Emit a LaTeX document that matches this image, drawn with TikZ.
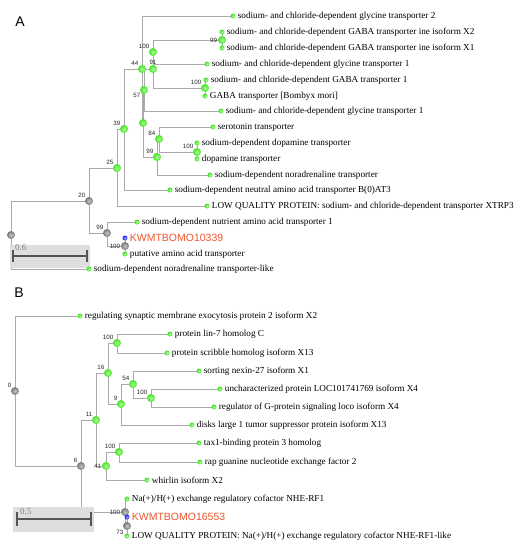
\documentclass[tikz,border=0pt]{standalone}
\usepackage{fontspec}
\setmainfont{Liberation Serif}
\newfontfamily\sansf{Liberation Sans}
\usetikzlibrary{calc}
\pgfdeclarelayer{bg}
\pgfsetlayers{bg,main}
\definecolor{branch}{RGB}{170,170,170}
\definecolor{kwred}{RGB}{238,84,44}
\definecolor{ngreen}{RGB}{70,225,40}
\definecolor{lgreen}{RGB}{170,255,150}
\definecolor{dgray}{RGB}{120,120,120}
\definecolor{scalebg}{RGB}{222,222,222}
\definecolor{bartone}{RGB}{85,85,85}
\tikzset{
  br/.style={draw=branch,line width=0.9pt},
  gnode/.style={circle,inner sep=0pt,minimum size=8pt,shading=radial,inner color=lgreen,outer color=ngreen},
  ynode/.style={circle,inner sep=0pt,minimum size=8pt,shading=radial,inner color=gray!45,outer color=dgray},
  leafdot/.style={circle,inner sep=0pt,minimum size=5pt,shading=radial,inner color=lgreen,outer color=ngreen},
  bluedot/.style={circle,inner sep=0pt,minimum size=5pt,shading=radial,inner color=blue!40,outer color=blue!85},
  lab/.style={anchor=west,inner sep=0pt,font=\fontsize{9.2}{10}\selectfont,xshift=2pt},
  kw/.style={anchor=west,inner sep=0pt,font=\sansf\fontsize{10.5}{11}\selectfont,text=kwred,xshift=2pt},
  bs/.style={inner sep=0.5pt,font=\sansf\fontsize{6.2}{6.5}\selectfont,text=black!85},
  bsnw/.style={label={[bs,anchor=south east]north west:#1}},
  bsw/.style={label={[bs,anchor=east]west:#1}},
  bsn/.style={label={[bs,anchor=south]north:#1}},
  bssw/.style={label={[bs,anchor=north east]south west:#1}},
  panel/.style={font=\sansf\fontsize{14}{14}\selectfont,anchor=center}
}
\begin{document}
\begin{tikzpicture}[x=1pt,y=-1pt]
\useasboundingbox (0,0) rectangle (524,550);
\node[panel] (pA) at (20,22) {A};
\node[panel] (pB) at (19,293) {B};
% ---------- scale bars ----------
\node[fill=scalebg,minimum width=80pt,minimum height=23pt,inner sep=0pt] (sbA) at (50,256.5) {};
\coordinate (sbA1) at (13,256);
\coordinate (sbA2) at (87,256);
\draw[bartone,line width=1.2pt] (sbA1) -- (sbA2);
\draw[bartone,line width=1.2pt] ($(sbA1)+(0,-6)$) -- ($(sbA1)+(0,6)$);
\draw[bartone,line width=1.2pt] ($(sbA2)+(0,-6)$) -- ($(sbA2)+(0,6)$);
\node[font=\fontsize{9}{9}\selectfont,text=gray,anchor=west,inner sep=0pt] (sbAt) at (15,248) {0.6};
\node[fill=scalebg,minimum width=81pt,minimum height=25pt,inner sep=0pt] (sbB) at (53.5,519.5) {};
\coordinate (sbB1) at (17,519);
\coordinate (sbB2) at (91,519);
\draw[bartone,line width=1.2pt] (sbB1) -- (sbB2);
\draw[bartone,line width=1.2pt] ($(sbB1)+(0,-7)$) -- ($(sbB1)+(0,7)$);
\draw[bartone,line width=1.2pt] ($(sbB2)+(0,-7)$) -- ($(sbB2)+(0,7)$);
\node[font=\fontsize{9}{9}\selectfont,text=gray,anchor=west,inner sep=0pt] (sbBt) at (20,512) {0.5};
% ---------- tree A internal nodes ----------
\node[ynode] (r0) at (11,235) {};
\node[ynode,bsnw=20] (n20) at (89,201) {};
\node[gnode,bsnw=25] (n25) at (117,168) {};
\node[gnode,bsnw=39] (n39) at (124,129) {};
\node[gnode,bsnw=44] (n44) at (142,69) {};
\node[gnode] (nX) at (143,123) {};
\node[gnode,bssw=57] (n57) at (144,90) {};
\node[gnode,bsn=91] (n91) at (153,69) {};
\node[gnode,bsnw=100] (n100a) at (153,52) {};
\node[gnode,bsw=99] (n99a) at (222,40) {};
\node[gnode,bsnw=100] (n100b) at (205,88) {};
\node[gnode,bsnw=99] (n99c) at (157,157) {};
\node[gnode,bsnw=84] (n84) at (159,139) {};
\node[gnode,bsnw=100] (n100c) at (197,152) {};
\node[ynode,bsnw=99] (n99d) at (107,233) {};
\node[ynode,bsw=100] (n100d) at (125,246) {};
% ---------- tree A leaves ----------
\node[leafdot] (a1) at (233,16) {};
\node[leafdot] (a2) at (222,32) {};
\node[leafdot] (a3) at (222,48) {};
\node[leafdot] (a4) at (207,64) {};
\node[leafdot] (a5) at (206,80) {};
\node[leafdot] (a6) at (205,96) {};
\node[leafdot] (a7) at (221,111) {};
\node[leafdot] (a8) at (213,127) {};
\node[leafdot] (a9) at (197,143) {};
\node[leafdot] (a10) at (197,159) {};
\node[leafdot] (a11) at (210,175) {};
\node[leafdot] (a12) at (170,190) {};
\node[leafdot] (a13) at (207,206) {};
\node[leafdot] (a14) at (137,222) {};
\node[bluedot] (a15) at (125,238) {};
\node[leafdot] (a16) at (125,254) {};
\node[leafdot] (a17) at (89,269) {};
\node[lab] (ta1) at (a1.east) {sodium- and chloride-dependent glycine transporter 2};
\node[lab] (ta2) at (a2.east) {sodium- and chloride-dependent GABA transporter ine isoform X2};
\node[lab] (ta3) at (a3.east) {sodium- and chloride-dependent GABA transporter ine isoform X1};
\node[lab] (ta4) at (a4.east) {sodium- and chloride-dependent glycine transporter 1};
\node[lab] (ta5) at (a5.east) {sodium- and chloride-dependent GABA transporter 1};
\node[lab] (ta6) at (a6.east) {GABA transporter [Bombyx mori]};
\node[lab] (ta7) at (a7.east) {sodium- and chloride-dependent glycine transporter 1};
\node[lab] (ta8) at (a8.east) {serotonin transporter};
\node[lab] (ta9) at (a9.east) {sodium-dependent dopamine transporter};
\node[lab] (ta10) at (a10.east) {dopamine transporter};
\node[lab] (ta11) at (a11.east) {sodium-dependent noradrenaline transporter};
\node[lab] (ta12) at (a12.east) {sodium-dependent neutral amino acid transporter B(0)AT3};
\node[lab] (ta13) at (a13.east) {LOW QUALITY PROTEIN: sodium- and chloride-dependent transporter XTRP3};
\node[lab] (ta14) at (a14.east) {sodium-dependent nutrient amino acid transporter 1};
\node[kw] (ta15) at (a15.east) {KWMTBOMO10339};
\node[lab] (ta16) at (a16.east) {putative amino acid transporter};
\node[lab] (ta17) at (a17.east) {sodium-dependent noradrenaline transporter-like};
% ---------- tree B internal nodes ----------
\node[ynode,bsnw=0] (s0) at (15,391) {};
\node[ynode,bsnw=6] (m6) at (81,466) {};
\node[gnode,bsnw=11] (m11) at (96,420) {};
\node[gnode,bsnw=16] (m16) at (108,373) {};
\node[gnode,bsnw=100] (m100a) at (117,343) {};
\node[gnode,bsnw=9] (m9) at (121,404) {};
\node[gnode,bsnw=54] (m54) at (133,384) {};
\node[gnode,bsnw=100] (m100b) at (151,398) {};
\node[gnode,bsw=41] (m41) at (106,466) {};
\node[gnode,bsnw=100] (m100c) at (119,452) {};
\node[ynode,bsw=100] (m100d) at (125,512) {};
\node[ynode,bssw=73] (m73) at (127,526) {};
% ---------- tree B leaves ----------
\node[leafdot] (b1) at (80,316) {};
\node[leafdot] (b2) at (170,334) {};
\node[leafdot] (b3) at (167,353) {};
\node[leafdot] (b4) at (199,371) {};
\node[leafdot] (b5) at (220,389) {};
\node[leafdot] (b6) at (214,407) {};
\node[leafdot] (b7) at (192,425) {};
\node[leafdot] (b8) at (199,443) {};
\node[leafdot] (b9) at (200,462) {};
\node[leafdot] (b10) at (147,480) {};
\node[leafdot] (b11) at (127,499) {};
\node[bluedot] (b12) at (127,517) {};
\node[leafdot] (b13) at (127,536) {};
\node[lab] (tb1) at (b1.east) {regulating synaptic membrane exocytosis protein 2 isoform X2};
\node[lab] (tb2) at (b2.east) {protein lin-7 homolog C};
\node[lab] (tb3) at (b3.east) {protein scribble homolog isoform X13};
\node[lab] (tb4) at (b4.east) {sorting nexin-27 isoform X1};
\node[lab] (tb5) at (b5.east) {uncharacterized protein LOC101741769 isoform X4};
\node[lab] (tb6) at (b6.east) {regulator of G-protein signaling loco isoform X4};
\node[lab] (tb7) at (b7.east) {disks large 1 tumor suppressor protein isoform X13};
\node[lab] (tb8) at (b8.east) {tax1-binding protein 3 homolog};
\node[lab] (tb9) at (b9.east) {rap guanine nucleotide exchange factor 2};
\node[lab] (tb10) at (b10.east) {whirlin isoform X2};
\node[lab] (tb11) at (b11.east) {Na(+)/H(+) exchange regulatory cofactor NHE-RF1};
\node[kw] (tb12) at (b12.east) {KWMTBOMO16553};
\node[lab] (tb13) at (b13.east) {LOW QUALITY PROTEIN: Na(+)/H(+) exchange regulatory cofactor NHE-RF1-like};
% ---------- branches ----------
\begin{pgfonlayer}{bg}
\foreach \p/\c in {r0/n20,r0/a17,n20/n25,n20/n99d,n25/n39,n25/a13,n39/n44,n39/a12,
  n44/a1,n44/nX,nX/n57,nX/n99c,n57/n91,n57/a7,n91/n100a,n91/n100b,n100a/n99a,n100a/a4,
  n99a/a2,n99a/a3,n100b/a5,n100b/a6,n99c/n84,n99c/a11,n84/a8,n84/n100c,n100c/a9,n100c/a10,
  n99d/a14,n99d/n100d,n100d/a15,n100d/a16,
  s0/b1,s0/m6,m6/m11,m6/m100d,m11/m16,m11/m41,m16/m100a,m16/m9,m100a/b2,m100a/b3,
  m9/m54,m9/b7,m54/b4,m54/m100b,m100b/b5,m100b/b6,m41/m100c,m41/b10,m100c/b8,m100c/b9,
  m100d/b11,m100d/m73,m73/b12,m73/b13}
  \draw[br] (\p.center) |- (\c.center);
\end{pgfonlayer}
\end{tikzpicture}
\end{document}
